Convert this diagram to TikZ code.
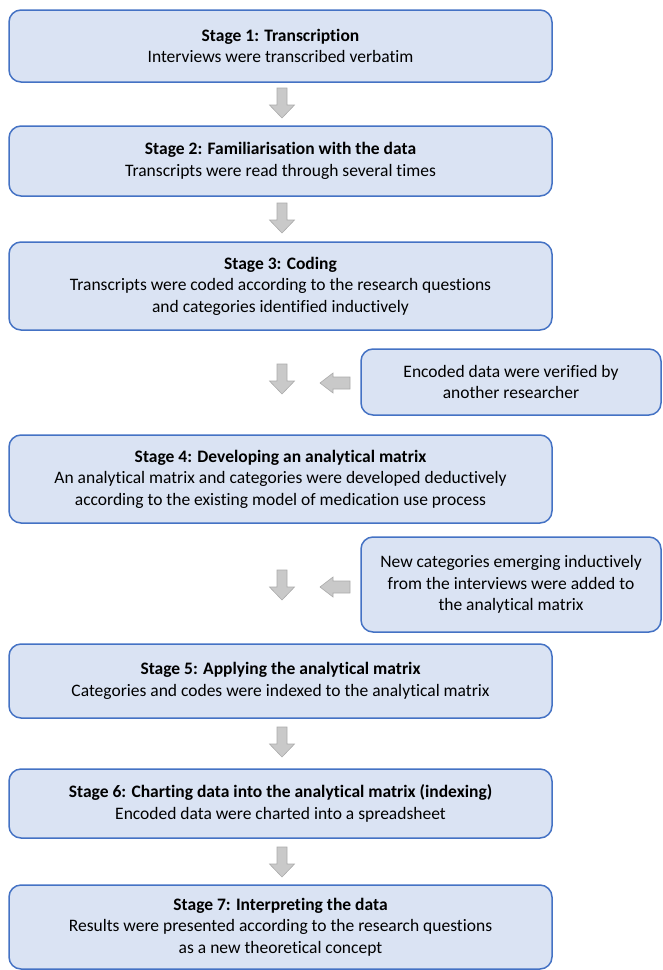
\documentclass[tikz,border=0pt]{standalone}
\usepackage{fontspec}
\setmainfont{Carlito}[RawFeature={-liga;-calt;-dlig}]
\definecolor{stageline}{HTML}{4472C4}
\definecolor{stagefill}{HTML}{DAE3F3}
\definecolor{arrowfill}{HTML}{C9C9C9}
\definecolor{arrowline}{HTML}{ABABAB}

\begin{document}
\begin{tikzpicture}[
  x=1pt, y=-1pt,
  stage/.style={draw=stageline, fill=stagefill, line width=1.5pt, rounded corners=12pt,
    align=center, font=\fontsize{17.5}{21.5}\selectfont, minimum width=543pt},
  note/.style={stage, minimum width=300pt},
  garrow/.style={fill=arrowfill, draw=arrowline, line width=0.6pt},
  darr/.pic={\path[garrow] (-5,0) -- (5,0) -- (5,17) -- (12.5,17) -- (0,30) -- (-12.5,17) -- (-5,17) -- cycle;},
  larr/.pic={\path[garrow] (0,-6) -- (0,6) -- (-17,6) -- (-17,10) -- (-30,0) -- (-17,-10) -- (-17,-6) -- cycle;},
]
\useasboundingbox (0,0) rectangle (662,970);

\node[stage, minimum height=72pt] (s1) at (280.5,46) {\textbf{Stage 1: Transcription}\\Interviews were transcribed verbatim};
\node[stage, minimum height=70pt] (s2) at (280.5,161) {\textbf{Stage 2: Familiarisation with the data}\\Transcripts were read through several times};
\node[stage, minimum height=88pt] (s3) at (280.5,286) {\textbf{Stage 3: Coding}\\Transcripts were coded according to the research questions\\and categories identified inductively};
\node[stage, minimum height=88pt] (s4) at (280.5,479) {\textbf{Stage 4: Developing an analytical matrix}\\An analytical matrix and categories were developed deductively\\according to the existing model of medication use process};
\node[stage, minimum height=74pt] (s5) at (280.5,681) {\textbf{Stage 5: Applying the analytical matrix}\\Categories and codes were indexed to the analytical matrix};
\node[stage, minimum height=69pt] (s6) at (280.5,803.5) {\textbf{Stage 6: Charting data into the analytical matrix (indexing)}\\Encoded data were charted into a spreadsheet};
\node[stage, minimum height=84pt] (s7) at (280.5,927) {\textbf{Stage 7: Interpreting the data}\\Results were presented according to the research questions\\as a new theoretical concept};

\node[note, minimum height=66pt] (v1) at (511,382) {Encoded data were verified by\\another researcher};
\node[note, minimum height=95pt] (v2) at (511,584.5) {New categories emerging inductively\\from the interviews were added to\\the analytical matrix};

\pic at (282,88) {darr};
\pic at (282,203) {darr};
\pic at (282,364) {darr};
\pic at (282,570) {darr};
\pic at (282,727) {darr};
\pic at (282,847) {darr};

\pic at (350,383) {larr};
\pic at (350,587) {larr};

\end{tikzpicture}
\end{document}
